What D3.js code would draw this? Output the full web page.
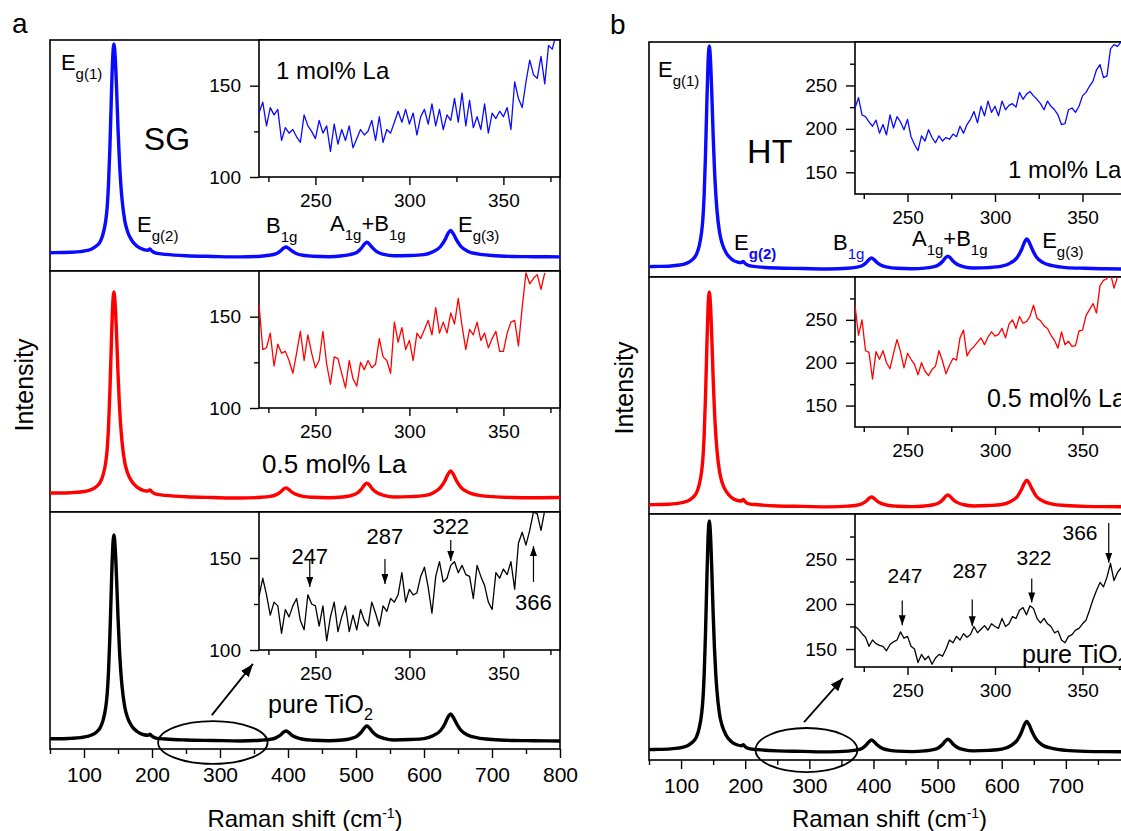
<!DOCTYPE html>
<html><head><meta charset="utf-8">
<script src="https://cdn.jsdelivr.net/npm/d3@7"></script>
<style>body{margin:0;background:#fff;}</style>
</head><body>
<script>
// ---------------- DATA ----------------
const ramanShift = [50,65,80,95,105,112,118,124,128,132,134,136,138,140,142,144,146,148,150,152,154,156,160,164,170,178,188,194,197,200,206,220,250,290,330,360,372,382,389,393,397,401,405,412,422,437,460,480,491,501,508,512,516,520,524,531,541,556,580,600,614,624,631,635,639,643,647,654,664,679,700,730,760,800];
// SG samples (a)
const sgLa1  = [7.9,8.0,8.1,8.4,8.9,9.6,10.8,12.8,16.0,21.9,27.3,37.3,52.8,72.8,91.0,98.3,91.9,78.3,61.8,48.2,38.1,30.9,21.7,17.1,13.4,10.7,9.3,9.0,9.5,8.6,7.7,7.2,6.6,6.3,6.1,6.4,6.8,7.4,8.7,9.8,10.4,9.8,8.8,7.6,6.8,6.4,6.2,6.6,7.1,8.0,9.9,11.5,12.5,11.5,10.1,8.3,7.2,6.6,6.7,7.1,8.4,10.5,13.6,16.1,17.6,16.2,13.9,10.7,8.6,7.4,6.7,6.3,6.2,6.1];
const sgLa05 = [7.9,7.9,8.0,8.3,8.8,9.4,10.5,12.4,15.3,20.7,25.7,35.0,49.3,67.8,84.6,91.3,85.4,72.8,57.6,45.0,35.7,29.0,20.5,16.3,12.8,10.3,8.9,8.7,9.2,8.3,7.4,6.9,6.3,6.0,5.8,6.1,6.4,7.1,8.3,9.4,10.0,9.4,8.4,7.3,6.5,6.1,5.9,6.2,6.7,7.7,9.5,11.1,12.0,11.1,9.6,8.0,6.9,6.2,6.4,6.8,8.0,10.1,13.1,15.5,17.0,15.7,13.4,10.3,8.3,7.0,6.4,6.0,5.9,6.0];
const sgPure = [4.3,4.3,4.5,4.8,5.3,6.0,7.1,9.1,12.1,17.7,22.9,32.4,47.1,66.1,83.4,90.3,84.2,71.3,55.7,42.8,33.2,26.3,17.6,13.3,9.8,7.4,6.0,5.8,6.2,5.4,4.6,4.2,3.8,3.6,3.4,3.7,4.0,4.7,5.9,7.0,7.6,7.0,6.0,4.9,4.1,3.7,3.5,3.8,4.3,5.3,7.2,8.8,9.7,8.8,7.3,5.6,4.5,3.8,4.0,4.4,5.7,7.7,10.8,13.3,14.8,13.4,11.2,8.0,5.9,4.7,4.0,3.6,3.5,3.4];
// HT samples (b)
const htLa1  = [4.4,4.5,4.6,5.0,5.5,6.3,7.5,9.7,12.9,19.1,24.7,35.1,51.2,71.9,90.8,98.3,91.7,77.5,60.6,46.4,36.0,28.4,19.0,14.3,10.4,7.8,6.3,6.1,6.6,5.7,4.8,4.3,3.8,3.6,3.4,3.7,4.1,4.8,6.2,7.4,8.1,7.4,6.3,5.0,4.2,3.7,3.5,3.8,4.2,5.1,6.7,8.1,8.9,8.1,6.8,5.3,4.3,3.8,4.0,4.6,6.0,8.3,11.7,14.5,16.2,14.7,12.1,8.5,6.2,4.8,4.0,3.7,3.5,3.4];
const htLa05 = [3.9,4.0,4.1,4.5,5.0,5.7,6.9,8.9,12.1,17.9,23.3,33.3,48.6,68.4,86.5,93.7,87.4,73.9,57.6,44.0,34.1,26.9,17.8,13.3,9.7,7.1,5.7,5.5,6.1,5.2,4.3,3.9,3.4,3.2,3.0,3.3,3.6,4.3,5.5,6.6,7.2,6.6,5.6,4.5,3.7,3.3,3.1,3.4,3.8,4.5,6.0,7.3,8.0,7.3,6.1,4.8,3.9,3.4,3.6,4.0,5.3,7.3,10.4,12.8,14.3,12.9,10.7,7.5,5.5,4.2,3.6,3.2,3.1,3.0];
const htPure = [4.2,4.3,4.4,4.8,5.3,6.1,7.3,9.4,12.7,18.7,24.3,34.6,50.5,71.0,89.7,97.2,90.7,76.7,59.8,45.8,35.5,28.0,18.6,14.0,10.2,7.5,6.1,5.8,6.2,5.4,4.6,4.2,3.7,3.5,3.3,3.6,4.0,4.7,6.2,7.4,8.1,7.4,6.3,5.0,4.1,3.6,3.4,3.7,4.1,4.9,6.4,7.7,8.5,7.7,6.5,5.1,4.2,3.7,3.9,4.4,5.8,8.0,11.4,14.1,15.7,14.2,11.7,8.3,6.0,4.7,3.9,3.5,3.4,3.3];

// zoomed (inset) region 220-380 cm-1
const insetShift = [220,222,224,226,228,230,232,234,236,238,240,242,244,246,248,250,252,254,256,258,260,262,264,266,268,270,272,274,276,278,280,282,284,286,288,290,292,294,296,298,300,302,304,306,308,310,312,314,316,318,320,322,324,326,328,330,332,334,336,338,340,342,344,346,348,350,352,354,356,358,360,362,364,366,368,370,372,374,376,378];
const sgLa1Zoom  = [135,141,128,138,134,137,120,127,124,126,122,119,134,128,125,121,131,124,128,114,129,118,126,120,128,116,121,126,123,125,131,120,133,119,126,124,130,136,130,137,129,135,123,133,137,129,140,128,137,126,134,131,143,130,146,128,142,127,133,126,140,124,135,132,136,133,138,126,152,143,138,152,164,156,154,166,151,172,170,178];
const sgLa05Zoom = [157,132,133,141,123,135,130,131,126,119,130,142,126,140,130,122,126,142,124,113,128,127,119,111,126,116,112,125,121,126,122,124,138,128,126,119,147,136,144,132,137,126,141,138,143,148,140,155,141,147,141,152,146,160,145,132,143,140,147,137,141,133,138,142,131,131,141,147,148,134,155,174,168,171,173,165,174];
const sgPureZoom = [129,139,130,119,126,124,109,122,118,124,128,116,111,130,125,124,113,124,105,118,126,110,118,124,110,119,111,122,116,113,126,120,113,124,121,128,126,130,142,126,133,130,131,140,145,134,120,140,148,137,139,146,148,142,146,141,140,128,146,140,135,126,122,142,139,144,141,148,133,158,164,157,165,175,174,165,176];
const htLa1Zoom  = [224,236,216,214,208,203,210,195,205,193,216,201,214,208,199,211,191,182,175,192,186,199,190,184,192,186,190,188,194,191,203,195,205,211,220,207,226,215,232,219,226,215,232,222,227,229,225,242,234,240,243,238,234,229,222,232,226,222,216,205,206,222,224,219,226,238,242,249,255,268,274,259,261,292,297,295,300,302,305];
const htLa05Zoom = [267,232,250,214,212,181,213,204,214,200,193,211,227,213,194,211,204,198,186,200,190,185,192,196,214,202,187,197,205,203,229,238,208,215,219,224,229,221,230,236,231,233,240,229,245,250,240,254,246,248,254,267,252,249,243,240,232,226,217,236,221,225,219,220,237,238,255,262,269,258,290,296,298,304,287,300];
const htPureZoom = [175,172,167,163,153,160,156,154,153,148,155,158,160,169,162,164,153,150,135,144,138,142,133,140,144,142,150,160,157,164,160,167,163,166,175,168,172,176,171,178,175,173,184,175,178,186,184,193,196,188,198,195,184,179,184,178,175,168,170,160,157,164,166,171,173,178,182,193,205,215,224,219,230,245,226,235,240,232,246];

// tick values
const mainTicks = [100,200,300,400,500,600,700,800];
const mainMinorTicks = [50,150,250,350,450,550,650,750];
const insetXTicks = [250,300,350];
const insetXMinorTicks = [225,275,325,375];
const sgInsetYTicks = [100,150];
const sgInsetYMinorTicks = [125];
const htInsetYTicks = [150,200,250];
const htInsetYMinorTicks = [175,225,275];
const markedShifts = ['247','287','322','366'];

// ---------------- LAYOUT ----------------
const FONT = '"Liberation Sans", Arial, Helvetica, sans-serif';
const BLUE = '#0a0aff', RED = '#ff0000', BLACK = '#000000';
const VIEW_W = 1121;

const panels = [
  { letter:'a', letterPos:[12,33], left:50, right:560, intensityPos:[24,385], titleY:827,
    rows:[
      {top:40,  bottom:271, data:sgLa1,  color:BLUE,  zoom:sgLa1Zoom,  inset:{left:259, h:137, yDom:[100,175], yT:sgInsetYTicks, yM:sgInsetYMinorTicks}},
      {top:271, bottom:512, data:sgLa05, color:RED,   zoom:sgLa05Zoom, inset:{left:259, h:137, yDom:[100,175], yT:sgInsetYTicks, yM:sgInsetYMinorTicks}},
      {top:512, bottom:749, data:sgPure, color:BLACK, zoom:sgPureZoom, inset:{left:259, h:138, yDom:[100,175], yT:sgInsetYTicks, yM:sgInsetYMinorTicks}}
    ]},
  { letter:'b', letterPos:[610,34], left:649, right:1130, intensityPos:[624,388], titleY:827,
    rows:[
      {top:42,  bottom:277, data:htLa1,  color:BLUE,  zoom:htLa1Zoom,  inset:{left:855, h:152, yDom:[125,300], yT:htInsetYTicks, yM:htInsetYMinorTicks}},
      {top:277, bottom:514, data:htLa05, color:RED,   zoom:htLa05Zoom, inset:{left:855, h:150, yDom:[125,300], yT:htInsetYTicks, yM:htInsetYMinorTicks}},
      {top:514, bottom:760, data:htPure, color:BLACK, zoom:htPureZoom, inset:{left:855, h:153, yDom:[130,300], yT:htInsetYTicks, yM:htInsetYMinorTicks}}
    ]}
];

const svg = d3.select('body').append('svg').attr('width',1121).attr('height',831).style('background','#fff');
const defs = svg.append('defs');
function makeMarker(id,len,wid){
  defs.append('marker').attr('id',id).attr('markerUnits','userSpaceOnUse')
    .attr('markerWidth',len+2).attr('markerHeight',wid+2)
    .attr('refX',len).attr('refY',wid/2).attr('orient','auto')
    .append('path').attr('d',`M0,0L${len},${wid/2}L0,${wid}Z`).attr('fill','#000');
}
makeMarker('arrS',10,7);
makeMarker('arrL',13,10);

function richText(g,x,y,parts,size,subSize,subDy,anchor){
  const t = g.append('text').attr('x',x).attr('y',y).attr('font-family',FONT)
    .attr('font-size',size).attr('fill','#000');
  if(anchor) t.attr('text-anchor',anchor);
  let shift = 0;
  parts.forEach(p=>{
    const ts = t.append('tspan').text(p.t);
    const target = p.sub ? subDy : (p.sup ? -subDy : 0);
    if(target-shift!==0) ts.attr('dy',target-shift);
    shift = target;
    if(p.sub||p.sup) ts.attr('font-size',subSize);
    if(p.fill) ts.attr('fill',p.fill);
    if(p.bold) ts.attr('font-weight','bold');
  });
  return t;
}

function styleAxis(a,fs){
  a.select('.domain').remove();
  a.attr('font-family',FONT).attr('font-size',fs);
  a.selectAll('line').attr('stroke','#000').attr('stroke-width',1.4);
  a.selectAll('text').attr('fill','#000');
}

let clipId = 0;
function clipRect(x,y,w,h){
  const id = 'clip'+(clipId++);
  defs.append('clipPath').attr('id',id).append('rect').attr('x',x).attr('y',y).attr('width',w).attr('height',h);
  return `url(#${id})`;
}

panels.forEach((P,pi)=>{
  const g = svg.append('g');
  const x = d3.scaleLinear().domain([50,800]).range([P.left,P.right]);
  P.rowScales = [];
  P.rows.forEach((R,ri)=>{
    const y = d3.scaleLinear().domain([0,100]).range([R.bottom,R.top]);
    P.rowScales.push(y);
    g.append('rect').attr('x',P.left).attr('y',R.top).attr('width',P.right-P.left).attr('height',R.bottom-R.top)
      .attr('fill','#fff').attr('stroke','#000').attr('stroke-width',1.6);
    const line = d3.line().x(d=>x(d[0])).y(d=>y(d[1])).curve(d3.curveMonotoneX);
    g.append('path').datum(ramanShift.map((s,i)=>[s,R.data[i]]))
      .attr('clip-path',clipRect(P.left,R.top,P.right-P.left,R.bottom-R.top))
      .attr('d',line).attr('fill','none').attr('stroke',R.color).attr('stroke-width',3.4)
      .attr('stroke-linejoin','round');
    const I = R.inset;
    const ix = d3.scaleLinear().domain([220, 220 + (P.right - I.left)/(pi===0?1.88:1.75)]).range([I.left,P.right]);
    const iy = d3.scaleLinear().domain(I.yDom).range([R.top+I.h,R.top]);
    R.ix = ix; R.iy = iy;
    const ig = g.append('g');
    ig.append('rect').attr('x',I.left).attr('y',R.top).attr('width',P.right-I.left).attr('height',I.h)
      .attr('fill','#fff').attr('stroke','#000').attr('stroke-width',1.6);
    const iline = d3.line().x(d=>ix(d[0])).y(d=>iy(d[1]));
    ig.append('path').datum(R.zoom.map((v,i)=>[insetShift[i],v]))
      .attr('clip-path',clipRect(I.left,R.top,P.right-I.left,I.h))
      .attr('d',iline).attr('fill','none').attr('stroke',R.color).attr('stroke-width',1.3)
      .attr('stroke-linejoin','round');
    const ya = ig.append('g').attr('transform',`translate(${I.left},0)`)
      .call(d3.axisLeft(iy).tickValues(I.yT).tickSize(9).tickPadding(9).tickFormat(d3.format('d')));
    styleAxis(ya,19);
    const ym = ig.append('g').attr('transform',`translate(${I.left},0)`)
      .call(d3.axisLeft(iy).tickValues(I.yM).tickSize(5).tickFormat(''));
    styleAxis(ym,19);
    const xa = ig.append('g').attr('transform',`translate(0,${R.top+I.h})`)
      .call(d3.axisBottom(ix).tickValues(insetXTicks).tickSize(8).tickPadding(9).tickFormat(d3.format('d')));
    styleAxis(xa,19);
    const xm = ig.append('g').attr('transform',`translate(0,${R.top+I.h})`)
      .call(d3.axisBottom(ix).tickValues(insetXMinorTicks).tickSize(5).tickFormat(''));
    styleAxis(xm,19);
  });
  const last = P.rows[2];
  const visibleTicks = mainTicks.filter(t => x(t) + 14 < VIEW_W);
  const ax = g.append('g').attr('transform',`translate(0,${last.bottom})`)
    .call(d3.axisBottom(x).tickValues(visibleTicks).tickSize(9).tickPadding(9).tickFormat(d3.format('d')));
  styleAxis(ax,21);
  const axm = g.append('g').attr('transform',`translate(0,${last.bottom})`)
    .call(d3.axisBottom(x).tickValues(mainMinorTicks).tickSize(5).tickFormat(''));
  styleAxis(axm,21);
  richText(g,(P.left+P.right)/2,P.titleY,[{t:'Raman shift (cm'},{t:'-1',sup:true},{t:')'}],24,14,9,'middle');
  g.append('text').attr('transform',`translate(${P.intensityPos[0]},${P.intensityPos[1]}) rotate(-90)`)
    .attr('text-anchor','middle').attr('dominant-baseline','central')
    .attr('font-family',FONT).attr('font-size',25).text('Intensity');
  g.append('text').attr('x',P.letterPos[0]).attr('y',P.letterPos[1]).attr('font-family',FONT)
    .attr('font-size',28).text(P.letter);
  P.x = x; P.g = g;
});

// ---------------- ANNOTATIONS ----------------
function peakLabels(P, pos, blueSubs){
  const g = P.g, x = P.x, y = P.rowScales[0];
  const sub = (t)=> blueSubs ? {t, sub:true, fill:BLUE} : {t, sub:true};
  richText(g,x(pos.eg1[0]),y(pos.eg1[1]),[{t:'E'},{t:'g(1)',sub:true}],22,15,9);
  richText(g,x(pos.eg2[0]),y(pos.eg2[1]),[{t:'E'}, blueSubs?{t:'g(2)',sub:true,fill:BLUE,bold:true}:{t:'g(2)',sub:true}],22,15,9);
  richText(g,x(pos.b1g[0]),y(pos.b1g[1]),[{t:'B'},sub('1g')],22,15,9);
  richText(g,x(pos.ab[0]),y(pos.ab[1]),[{t:'A'},{t:'1g',sub:true},{t:'+B'},{t:'1g',sub:true}],22,15,9);
  richText(g,x(pos.eg3[0]),y(pos.eg3[1]),[{t:'E'},{t:'g(3)',sub:true}],22,15,9);
  g.append('text').attr('x',x(pos.name[0])).attr('y',y(pos.name[1])).attr('font-family',FONT)
    .attr('font-size',pos.nameSize).text(pos.nameText);
}
peakLabels(panels[0],{eg1:[66,87],eg2:[178,16.9],b1g:[367.6,16.5],ab:[461.8,17.3],eg3:[650,16.9],name:[188,52.4],nameSize:32,nameText:'SG'},false);
peakLabels(panels[1],{eg1:[64,85.1],eg2:[182.6,11.5],b1g:[337,11.5],ab:[460,13.2],eg3:[663,12.3],name:[203,48.5],nameSize:34,nameText:'HT'},true);

function sampleName(P,ri,inInset,pos,parts,size){
  const R = P.rows[ri];
  const px = inInset ? R.ix(pos[0]) : P.x(pos[0]);
  const py = inInset ? R.iy(pos[1]) : P.rowScales[ri](pos[1]);
  richText(P.g,px,py,parts,size,16,7);
}
sampleName(panels[0],0,true,[229,153.8],[{t:'1 mol% La'}],24);
sampleName(panels[0],1,false,[361.8,16.2],[{t:'0.5 mol% La'}],26);
sampleName(panels[0],2,false,[370.6,15.2],[{t:'pure TiO'},{t:'2',sub:true}],25);
sampleName(panels[1],0,true,[307.4,143.8],[{t:'1 mol% La'}],24);
sampleName(panels[1],1,true,[295.4,148.4],[{t:'0.5 mol% La'}],25);
sampleName(panels[1],2,true,[315.4,134.4],[{t:'pure TiO'},{t:'2',sub:true}],25);

const markA = [{x:247,from:149.5,to:134.2,lx:247,ly:146.7},{x:287,from:149.5,to:135.9,lx:287,ly:157.6},{x:322,from:159.8,to:148.4,lx:322,ly:163},{x:366,from:137,to:156.5,lx:366,ly:121.7}];
const markB = [{x:247,from:204,to:176.4,lx:248.6,ly:223.8},{x:287,from:205,to:175.3,lx:285.7,ly:229.4},{x:321,from:228.3,to:201.8,lx:322.3,ly:243.7},{x:365,from:290,to:245.9,lx:348.6,ly:271.3}];
[[panels[0],markA,22],[panels[1],markB,21]].forEach(([P,marks,fs])=>{
  const R = P.rows[2];
  marks.forEach((m,i)=>{
    P.g.append('line').attr('x1',R.ix(m.x)).attr('x2',R.ix(m.x)).attr('y1',R.iy(m.from)).attr('y2',R.iy(m.to))
      .attr('stroke','#000').attr('stroke-width',1.2).attr('marker-end','url(#arrS)');
    P.g.append('text').attr('x',R.ix(m.lx)).attr('y',R.iy(m.ly)).attr('text-anchor','middle')
      .attr('font-family',FONT).attr('font-size',fs).text(markedShifts[i]);
  });
});

const zoomMark = [
  {P:panels[0], ex:[209,370], ey:[-6.3,11.8], a0:[288,14.3], a1:[348.5,35.9]},
  {P:panels[1], ex:[216,375], ey:[-4.9,13], a0:[291.8,15.4], a1:[352.6,33.3]}
];
zoomMark.forEach(z=>{
  const x = z.P.x, y = z.P.rowScales[2];
  z.P.g.append('ellipse').attr('cx',(x(z.ex[0])+x(z.ex[1]))/2).attr('cy',(y(z.ey[0])+y(z.ey[1]))/2)
    .attr('rx',(x(z.ex[1])-x(z.ex[0]))/2).attr('ry',(y(z.ey[0])-y(z.ey[1]))/2)
    .attr('fill','none').attr('stroke','#000').attr('stroke-width',1.8);
  z.P.g.append('line').attr('x1',x(z.a0[0])).attr('y1',y(z.a0[1])).attr('x2',x(z.a1[0])).attr('y2',y(z.a1[1]))
    .attr('stroke','#000').attr('stroke-width',1.8).attr('marker-end','url(#arrL)');
});
</script>
</body></html>
